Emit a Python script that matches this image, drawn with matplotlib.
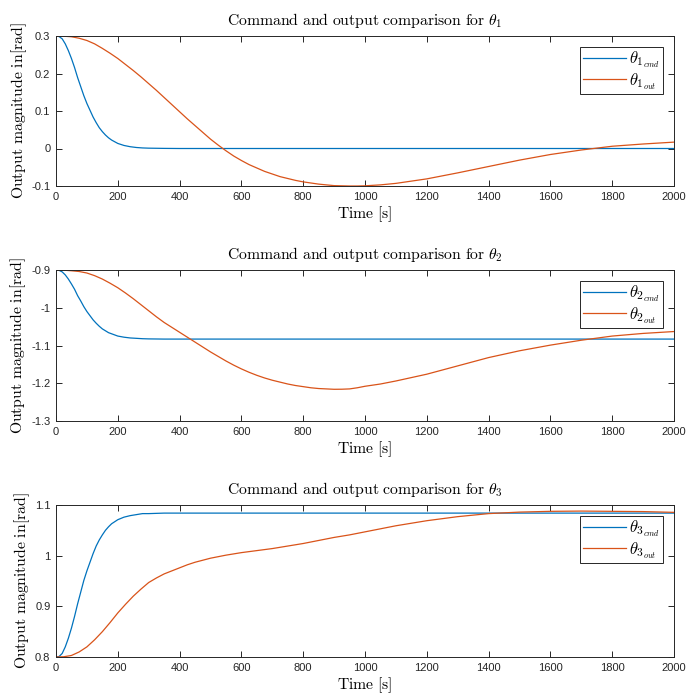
import matplotlib
matplotlib.use("Agg")
import matplotlib.pyplot as plt

plt.rcParams["mathtext.fontset"] = "cm"
plt.rcParams["font.family"] = ["Liberation Sans", "DejaVu Sans"]

# Time samples (s)
t_cmd = [0, 10, 20, 30, 40, 50, 60, 70, 80, 90, 100, 110, 120, 130, 140, 150,
         160, 170, 180, 190, 200, 220, 240, 260, 280, 300, 350, 400, 2000]
t_out = [0, 25, 50, 75, 100, 125, 150, 175, 200, 225, 250, 275, 300, 325, 350,
         375, 400, 425, 450, 475, 500, 525, 550, 575, 600, 625, 650, 675, 700,
         725, 750, 775, 800, 825, 850, 875, 900, 925, 950, 975, 1000, 1050,
         1100, 1200, 1300, 1400, 1500, 1600, 1700, 1800, 1900, 2000]

# Joint 1 (rad)
th1_cmd = [0.300, 0.2985, 0.2925, 0.279, 0.261, 0.240, 0.216, 0.189, 0.165,
           0.141, 0.120, 0.102, 0.084, 0.069, 0.0555, 0.045, 0.036, 0.0285,
           0.0225, 0.018, 0.0135, 0.0081, 0.0048, 0.0027, 0.0015, 0.0009,
           0.0003, 0.0, 0.0]
th1_out = [0.300, 0.2995, 0.298, 0.294, 0.288, 0.279, 0.267, 0.254, 0.240,
           0.224, 0.208, 0.191, 0.173, 0.155, 0.136, 0.117, 0.098, 0.079,
           0.061, 0.043, 0.025, 0.009, -0.006, -0.020, -0.032, -0.043, -0.052,
           -0.061, -0.068, -0.075, -0.080, -0.085, -0.089, -0.092, -0.095,
           -0.097, -0.099, -0.0995, -0.100, -0.100, -0.0995, -0.097, -0.093,
           -0.081, -0.065, -0.048, -0.031, -0.016, -0.004, 0.006, 0.012, 0.017]

# Joint 2 (rad)
th2_cmd = [-0.900, -0.901, -0.905, -0.913, -0.924, -0.937, -0.951, -0.968,
           -0.982, -0.997, -1.010, -1.021, -1.032, -1.041, -1.049, -1.056,
           -1.061, -1.066, -1.069, -1.072, -1.075, -1.078, -1.080, -1.081,
           -1.082, -1.0825, -1.083, -1.083, -1.083]
th2_out = [-0.900, -0.9005, -0.902, -0.904, -0.908, -0.915, -0.924, -0.935,
           -0.947, -0.961, -0.976, -0.992, -1.008, -1.024, -1.039, -1.052,
           -1.065, -1.078, -1.091, -1.104, -1.117, -1.129, -1.141, -1.152,
           -1.162, -1.171, -1.179, -1.186, -1.192, -1.197, -1.202, -1.206,
           -1.209, -1.212, -1.214, -1.215, -1.216, -1.2158, -1.215, -1.212,
           -1.208, -1.202, -1.194, -1.176, -1.154, -1.132, -1.114, -1.099,
           -1.086, -1.075, -1.068, -1.063]

# Joint 3 (rad)
th3_cmd = [0.800, 0.801, 0.807, 0.820, 0.837, 0.857, 0.880, 0.905, 0.928,
           0.951, 0.970, 0.987, 1.004, 1.019, 1.031, 1.041, 1.050, 1.057,
           1.063, 1.067, 1.071, 1.076, 1.079, 1.081, 1.083, 1.083, 1.084,
           1.084, 1.084]
th3_out = [0.800, 0.8005, 0.803, 0.810, 0.820, 0.834, 0.850, 0.868, 0.887,
           0.904, 0.920, 0.934, 0.947, 0.956, 0.964, 0.970, 0.976, 0.982,
           0.987, 0.991, 0.995, 0.998, 1.001, 1.0035, 1.006, 1.008, 1.010,
           1.012, 1.014, 1.0165, 1.019, 1.0215, 1.024, 1.027, 1.030, 1.033,
           1.036, 1.0385, 1.041, 1.044, 1.047, 1.053, 1.059, 1.069, 1.077,
           1.083, 1.086, 1.0875, 1.088, 1.0875, 1.087, 1.0855]

x_ticks = [0, 200, 400, 600, 800, 1000, 1200, 1400, 1600, 1800, 2000]
y_ticks = [
    [-0.1, 0.0, 0.1, 0.2, 0.3],
    [-1.3, -1.2, -1.1, -1.0, -0.9],
    [0.8, 0.9, 1.0, 1.1],
]
y_tick_labels = [
    ["-0.1", "0", "0.1", "0.2", "0.3"],
    ["-1.3", "-1.2", "-1.1", "-1", "-0.9"],
    ["0.8", "0.9", "1", "1.1"],
]

series = [(th1_cmd, th1_out), (th2_cmd, th2_out), (th3_cmd, th3_out)]

BLUE = "#0072BD"
ORANGE = "#D95319"
AX_COLOR = "#262626"

W, H = 688, 695
fig = plt.figure(figsize=(W / 100, H / 100), dpi=100)

# axes boxes in pixels: (top, bottom)
boxes = [(36, 186), (270, 421), (505, 657)]
left_px, right_px = 56, 674

for i, ((cmd, out), (top, bot)) in enumerate(zip(series, boxes)):
    ax = fig.add_axes([left_px / W, 1 - bot / H,
                       (right_px - left_px) / W, (bot - top) / H])
    n = i + 1
    ax.plot(t_cmd, cmd, color=BLUE, lw=0.9, label=r"$\theta_{%d_{cmd}}$" % n)
    ax.plot(t_out, out, color=ORANGE, lw=0.9, label=r"$\theta_{%d_{out}}$" % n)

    ax.set_xlim(0, 2000)
    ax.set_ylim(y_ticks[i][0], y_ticks[i][-1])
    ax.set_xticks(x_ticks)
    ax.set_xticklabels([str(v) for v in x_ticks])
    ax.set_yticks(y_ticks[i])
    ax.set_yticklabels(y_tick_labels[i])

    ax.tick_params(direction="in", top=True, right=True, length=4, width=0.7,
                   colors=AX_COLOR, labelsize=8, pad=4)
    for sp in ax.spines.values():
        sp.set_color(AX_COLOR)
        sp.set_linewidth(0.7)

    ax.set_title(r"$\mathrm{Command\ and\ output\ comparison\ for\ }\theta_{%d}$" % n,
                 fontsize=11.3, pad=8, color="black")
    ax.set_xlabel(r"$\mathrm{Time\ [s]}$", fontsize=11.3, labelpad=2, color="black")
    ax.set_ylabel(r"$\mathrm{Output\ magnitude\ in[rad]}$", fontsize=11.3,
                  labelpad=2, color="black")

    leg = ax.legend(loc="upper right",
                    bbox_to_anchor=((663 - left_px) / (right_px - left_px),
                                    1 - 11 / (bot - top)),
                    borderaxespad=0, fontsize=12, handlelength=2.6,
                    handletextpad=0.2, borderpad=0.15, labelspacing=0.05,
                    fancybox=False, framealpha=1, edgecolor=AX_COLOR)
    leg.get_frame().set_linewidth(0.7)

fig.savefig("out.png", dpi=100)
